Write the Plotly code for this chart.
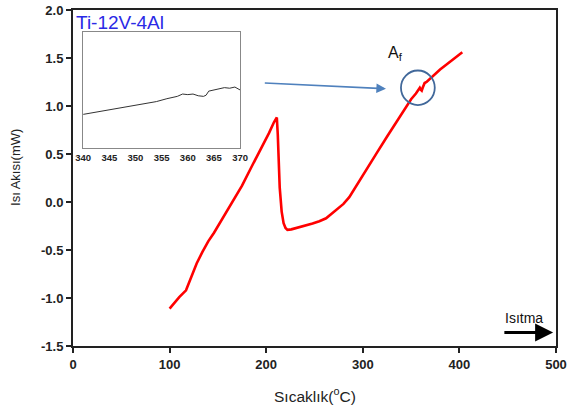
import plotly.graph_objects as go

# DSC heating curve of Ti-12V-4Al
temp_c = [100, 105, 110, 117, 122, 128, 134, 140, 146, 152, 159, 166, 175, 185,
          195, 203, 208, 211, 212, 213, 214, 216, 218, 220, 222, 226, 232, 240,
          248, 255, 262, 268, 274, 280, 286, 295, 305, 315, 325, 335, 343, 350,
          355, 357, 359, 360, 361, 362, 364, 366, 370, 375, 380, 385, 390, 395,
          400, 403]
heat_flow = [-1.11, -1.05, -0.99, -0.92, -0.80, -0.64, -0.52, -0.41, -0.32, -0.22,
             -0.11, 0.01, 0.17, 0.37, 0.56, 0.72, 0.83, 0.88, 0.70, 0.45, 0.15,
             -0.10, -0.22, -0.27, -0.29, -0.285, -0.27, -0.25, -0.225, -0.20,
             -0.17, -0.12, -0.07, -0.02, 0.05, 0.20, 0.36, 0.52, 0.68, 0.84,
             0.97, 1.07, 1.13, 1.16, 1.19, 1.17, 1.16, 1.19, 1.24, 1.25, 1.29,
             1.34, 1.38, 1.42, 1.46, 1.50, 1.54, 1.56]

# Zoomed view around the Af transformation
inset_temp = [340, 342, 344, 346, 348, 350, 352, 354, 356, 357, 358, 359, 360,
              361, 362, 363, 363.5, 364, 365, 366, 367, 368, 369, 370]
inset_flow = [0.29, 0.305, 0.32, 0.335, 0.35, 0.37, 0.385, 0.40, 0.425, 0.435,
              0.445, 0.465, 0.46, 0.465, 0.45, 0.445, 0.455, 0.49, 0.50, 0.51,
              0.52, 0.515, 0.525, 0.50]

x_ticks = [0, 100, 200, 300, 400, 500]
y_ticks = [-1.5, -1.0, -0.5, 0.0, 0.5, 1.0, 1.5, 2.0]
inset_ticks = [340, 345, 350, 355, 360, 365, 370]

FONT = "Liberation Sans, Arial"

fig = go.Figure()
fig.add_trace(go.Scatter(x=temp_c, y=heat_flow, mode="lines",
                         line=dict(color="#ff0000", width=2.6),
                         showlegend=False))
fig.add_trace(go.Scatter(x=inset_temp, y=inset_flow, mode="lines",
                         line=dict(color="#333333", width=1),
                         xaxis="x2", yaxis="y2", showlegend=False))

tick_font = dict(family=FONT, size=13, color="#222", weight="bold")

fig.update_layout(
    width=568, height=414,
    margin=dict(l=73, r=12, t=10, b=68, autoexpand=False),
    paper_bgcolor="white", plot_bgcolor="white",
    xaxis=dict(range=[0, 500], tickvals=x_ticks, ticktext=[str(v) for v in x_ticks],
               automargin=False,
               showgrid=False, zeroline=False, showline=True, linewidth=2,
               linecolor="#222", mirror=True, ticks="outside", ticklen=5,
               tickwidth=1.5, tickcolor="#222", tickfont=tick_font),
    yaxis=dict(range=[-1.5, 2.0], tickvals=y_ticks,
               ticktext=[f"{v:.1f}" for v in y_ticks], automargin=False,
               showgrid=False, zeroline=False, showline=True, linewidth=2,
               linecolor="#222", mirror=True, ticks="outside", ticklen=5,
               tickwidth=1.5, tickcolor="#222", tickfont=tick_font),
    xaxis2=dict(domain=[0.021, 0.346], anchor="y2", range=[340, 370],
                tickvals=inset_ticks, showgrid=False, zeroline=False,
                automargin=False,
                showline=True, linewidth=1.2, linecolor="#888", mirror=True,
                ticks="", tickfont=dict(family=FONT, size=9.5,
                                        color="#222", weight="bold")),
    yaxis2=dict(domain=[0.589, 0.935], anchor="x2", range=[0, 1],
                automargin=False,
                showgrid=False, zeroline=False, showticklabels=False,
                showline=True, linewidth=1.2, linecolor="#888", mirror=True,
                ticks=""),
)

# Axis titles
fig.add_annotation(text="Sıcaklık(<sup>o</sup>C)", xref="paper", yref="paper",
                   x=0.5, y=-0.145, xanchor="center", yanchor="middle", showarrow=False,
                   font=dict(family=FONT, size=15.5, color="#222"))
fig.add_annotation(text="Isı Akısı(mW)", xref="paper", yref="paper",
                   x=-0.118, y=0.53, xanchor="center", yanchor="middle", showarrow=False,
                   textangle=-90, font=dict(family=FONT, size=13, color="#222"))

# Inset title
fig.add_annotation(text="Ti-12V-4Al", xref="paper", yref="paper", x=0.002, y=1.0,
                   xanchor="left", yanchor="top", showarrow=False,
                   font=dict(family=FONT, size=19, color="#2a2ae6"))

# Pointer from inset to the Af region
fig.add_annotation(x=324, y=1.18, ax=197, ay=1.24, xref="x", yref="y",
                   axref="x", ayref="y", text="", showarrow=True,
                   arrowhead=2, arrowsize=1.2, arrowwidth=1.6, arrowcolor="#4f81bd")
fig.add_shape(type="circle", xref="x", yref="y", x0=339.5, x1=374.5, y0=1.01, y1=1.37,
              line=dict(color="#41689a", width=1.8))
fig.add_annotation(text="A<sub>f</sub>", x=334, y=1.55, xref="x", yref="y",
                   showarrow=False, font=dict(family=FONT, size=16, color="#111"))

# Heating direction
fig.add_annotation(x=497, y=-1.36, ax=445, ay=-1.36, xref="x", yref="y",
                   axref="x", ayref="y", text="", showarrow=True,
                   arrowhead=2, arrowsize=1.2, arrowwidth=3, arrowcolor="black")
fig.add_annotation(text="Isıtma", x=467, y=-1.21, xref="x", yref="y", showarrow=False,
                   font=dict(family=FONT, size=14, color="#111"))

fig.write_html("out.html")
